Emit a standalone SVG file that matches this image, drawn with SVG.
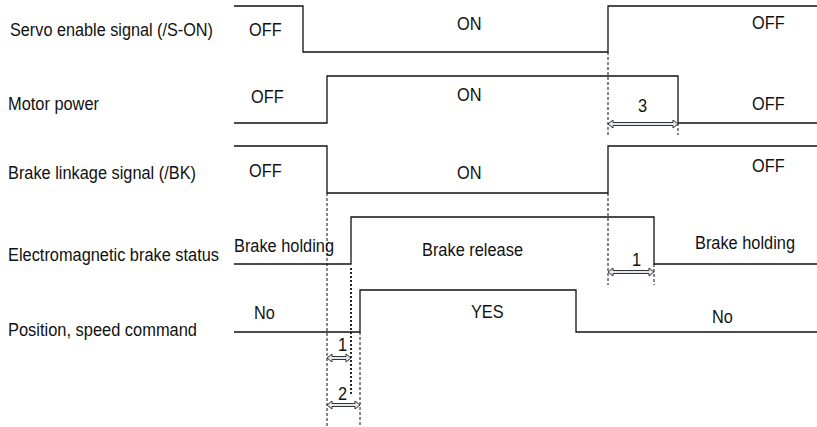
<svg xmlns="http://www.w3.org/2000/svg" width="817" height="427" viewBox="0 0 817 427">
<style>
text{font-family:"Liberation Sans",Arial,sans-serif;font-size:17.5px;fill:#111}
.w{fill:none;stroke:#111;stroke-width:1.3}
.d{fill:none;stroke:#111;stroke-width:1;stroke-dasharray:3 2}
.dd{fill:none;stroke:#111;stroke-width:1.8;stroke-dasharray:2 2}
.ar{fill:#e3e7ee;stroke:#333;stroke-width:1}
</style>
<rect width="817" height="427" fill="#fff"/>
<g id="labels">
<text x="10" y="36" textLength="203" lengthAdjust="spacingAndGlyphs">Servo enable signal (/S-ON)</text>
<text x="8" y="110" textLength="91" lengthAdjust="spacingAndGlyphs">Motor power</text>
<text x="8" y="179" textLength="188" lengthAdjust="spacingAndGlyphs">Brake linkage signal (/BK)</text>
<text x="8" y="261" textLength="211" lengthAdjust="spacingAndGlyphs">Electromagnetic brake status</text>
<text x="8" y="336" textLength="189" lengthAdjust="spacingAndGlyphs">Position, speed command</text>
</g>
<g id="servo-enable">
<path class="w" d="M234 6H303V52H608V6H817"/>
<text x="249" y="36" textLength="32.6" lengthAdjust="spacingAndGlyphs">OFF</text>
<text x="457" y="30" textLength="24.5" lengthAdjust="spacingAndGlyphs">ON</text>
<text x="752" y="29" textLength="32.6" lengthAdjust="spacingAndGlyphs">OFF</text>
</g>
<g id="motor-power">
<path class="w" d="M234 123H327V76H678V123H817"/>
<text x="251" y="103" textLength="32.6" lengthAdjust="spacingAndGlyphs">OFF</text>
<text x="457" y="101" textLength="24.5" lengthAdjust="spacingAndGlyphs">ON</text>
<text x="752" y="110" textLength="32.6" lengthAdjust="spacingAndGlyphs">OFF</text>
</g>
<g id="brake-linkage">
<path class="w" d="M234 146H327V193H608V146H817"/>
<text x="249" y="177" textLength="32.6" lengthAdjust="spacingAndGlyphs">OFF</text>
<text x="457" y="179" textLength="24.5" lengthAdjust="spacingAndGlyphs">ON</text>
<text x="752" y="172" textLength="32.6" lengthAdjust="spacingAndGlyphs">OFF</text>
</g>
<g id="brake-status">
<path class="w" d="M234 264H351V217H654V264H817"/>
<text x="234" y="252" textLength="100" lengthAdjust="spacingAndGlyphs">Brake holding</text>
<text x="422" y="256" textLength="101" lengthAdjust="spacingAndGlyphs">Brake release</text>
<text x="695" y="249" textLength="100" lengthAdjust="spacingAndGlyphs">Brake holding</text>
</g>
<g id="position-command">
<path class="w" d="M234 332H360V290H576V332H817"/>
<text x="254" y="319" textLength="20.8" lengthAdjust="spacingAndGlyphs">No</text>
<text x="471" y="318" textLength="32.6" lengthAdjust="spacingAndGlyphs">YES</text>
<text x="712" y="323" textLength="20.8" lengthAdjust="spacingAndGlyphs">No</text>
</g>
<g id="connectors">
<path class="d" d="M608 52V135M678 123V135M608 193V285M654 264V285M327 193V427M360 332V427"/>
<path class="dd" d="M351 268V395"/>
<path class="ar" d="M608 124L613 120V122.5H673V120L678 124L673 128V125.5H613V128Z"/>
<path class="ar" d="M608 272L613 268V270.5H649V268L654 272L649 276V273.5H613V276Z"/>
<path class="ar" d="M327 358L332 354V356.5H346V354L351 358L346 362V359.5H332V362Z"/>
<path class="ar" d="M327 405L332 401V403.5H355V401L360 405L355 409V406.5H332V409Z"/>
<text x="638" y="112" textLength="9.1" lengthAdjust="spacingAndGlyphs">3</text>
<text x="632" y="266" textLength="9.1" lengthAdjust="spacingAndGlyphs">1</text>
<text x="338" y="351" textLength="9.1" lengthAdjust="spacingAndGlyphs">1</text>
<text x="338" y="400" textLength="9.1" lengthAdjust="spacingAndGlyphs">2</text>
</g>
</svg>
